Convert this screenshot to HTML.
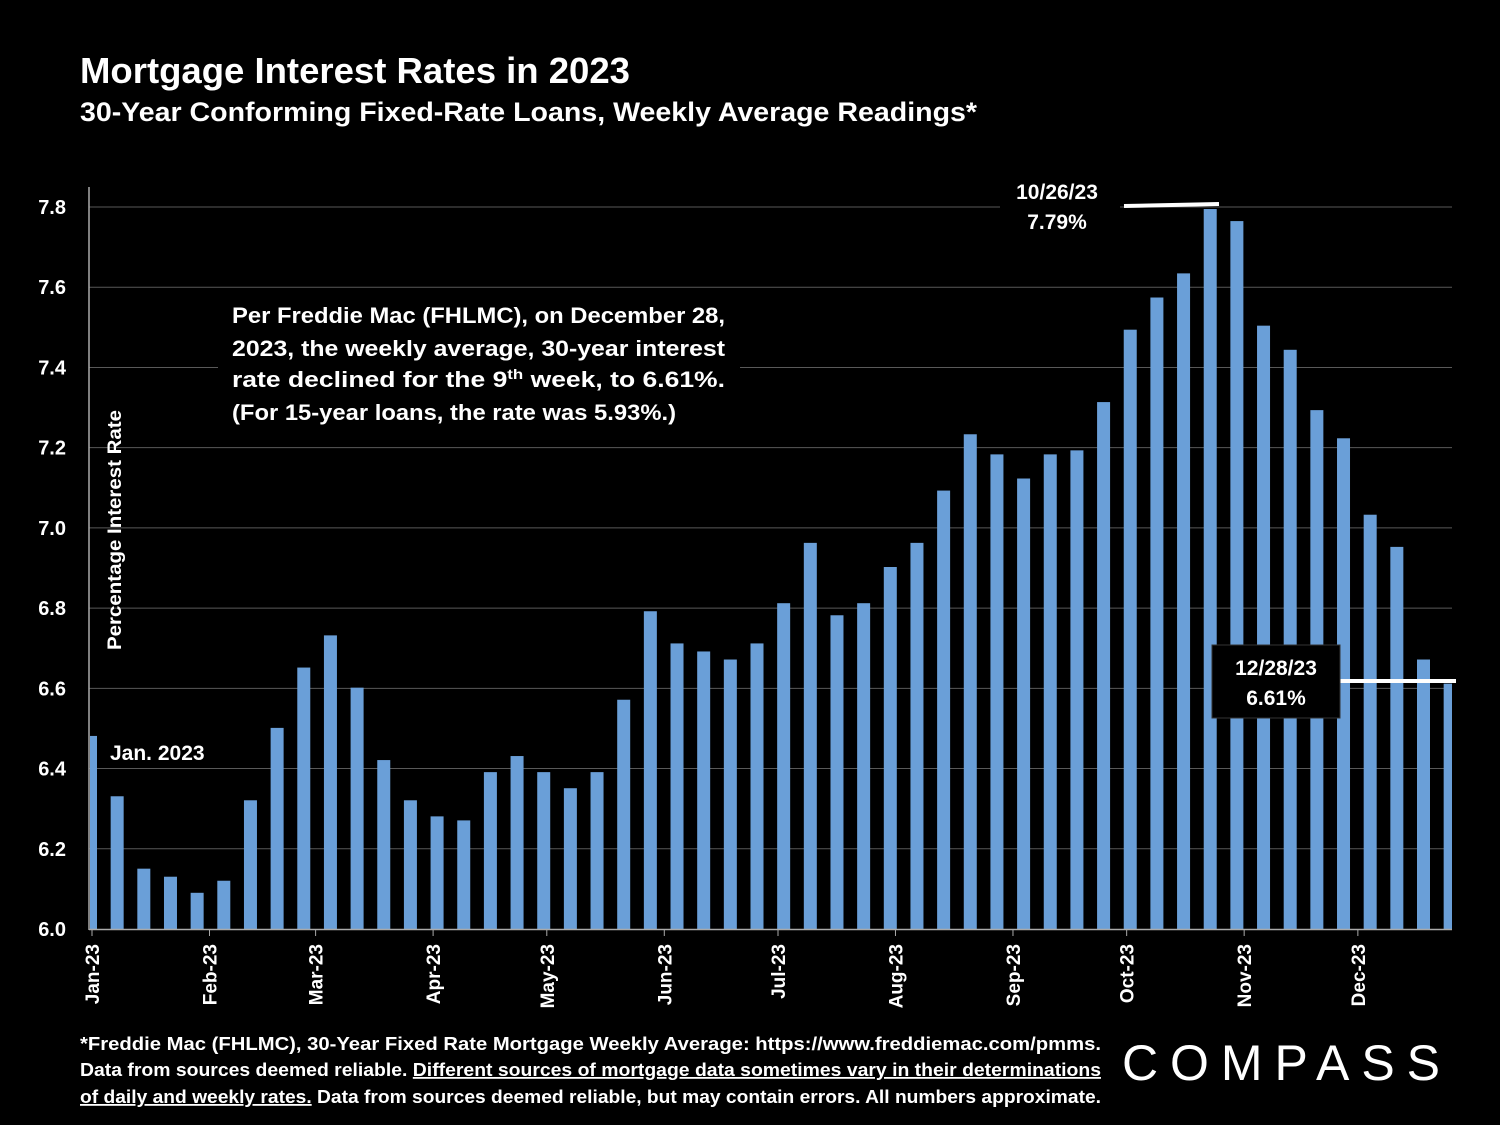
<!DOCTYPE html>
<html><head><meta charset="utf-8"><style>
html,body{margin:0;padding:0;background:#000;}
svg{display:block;font-family:"Liberation Sans",Arial,sans-serif;}
</style></head><body>
<svg id="chart" width="1500" height="1125" viewBox="0 0 1500 1125" xmlns="http://www.w3.org/2000/svg">
<rect width="1500" height="1125" fill="#000"/>
<text x="80" y="83" fill="#fff" font-size="36" font-weight="bold" textLength="550" lengthAdjust="spacingAndGlyphs">Mortgage Interest Rates in 2023</text>
<text x="80" y="121" fill="#fff" font-size="27" font-weight="bold" textLength="897" lengthAdjust="spacingAndGlyphs">30-Year Conforming Fixed-Rate Loans, Weekly Average Readings*</text>
<g id="grid"></g>
<g id="bars"></g>
<g id="axes"></g>
<text transform="translate(121,530) rotate(-90)" text-anchor="middle" fill="#fff" font-size="19" font-weight="bold" textLength="240" lengthAdjust="spacingAndGlyphs">Percentage Interest Rate</text>
<g>
<rect x="218" y="293" width="522" height="138" fill="#000"/>
<text x="232" y="323" fill="#fff" font-size="22" font-weight="bold" textLength="493" lengthAdjust="spacingAndGlyphs">Per Freddie Mac (FHLMC), on December 28,</text>
<text x="232" y="356" fill="#fff" font-size="22" font-weight="bold" textLength="493" lengthAdjust="spacingAndGlyphs">2023, the weekly average, 30-year interest</text>
<text x="232" y="387" fill="#fff" font-size="22" font-weight="bold" textLength="493" lengthAdjust="spacingAndGlyphs">rate declined for the 9<tspan font-size="14" dy="-8">th</tspan><tspan dy="8"> week, to 6.61%.</tspan></text>
<text x="232" y="420" fill="#fff" font-size="22" font-weight="bold" textLength="444" lengthAdjust="spacingAndGlyphs">(For 15-year loans, the rate was 5.93%.)</text>
</g>
<text x="110" y="760" fill="#fff" font-size="21" font-weight="bold">Jan. 2023</text>
<g>
<rect x="1000" y="175" width="120" height="62" fill="#000"/>
<text x="1057" y="199" text-anchor="middle" fill="#fff" font-size="21" font-weight="bold">10/26/23</text>
<text x="1057" y="229" text-anchor="middle" fill="#fff" font-size="21" font-weight="bold">7.79%</text>
<line x1="1124" y1="206" x2="1219" y2="204" stroke="#fff" stroke-width="4"/>
</g>
<g>
<line x1="1338" y1="681" x2="1456" y2="681" stroke="#fff" stroke-width="4"/>
<rect x="1212" y="645" width="128" height="73" fill="#000" stroke="#333" stroke-width="1"/>
<text x="1276" y="675" text-anchor="middle" fill="#fff" font-size="21" font-weight="bold">12/28/23</text>
<text x="1276" y="705" text-anchor="middle" fill="#fff" font-size="21" font-weight="bold">6.61%</text>
</g>
<g fill="#fff" font-size="18" font-weight="bold">
<text x="80" y="1050" textLength="1021" lengthAdjust="spacingAndGlyphs">*Freddie Mac (FHLMC), 30-Year Fixed Rate Mortgage Weekly Average:  https://www.freddiemac.com/pmms.</text>
<text x="80" y="1076" textLength="1021" lengthAdjust="spacingAndGlyphs">Data from sources deemed reliable. <tspan text-decoration="underline">Different sources of mortgage data sometimes vary in their determinations</tspan></text>
<text x="80" y="1103" textLength="1021" lengthAdjust="spacingAndGlyphs"><tspan text-decoration="underline">of daily and weekly rates.</tspan> Data from sources deemed reliable, but may contain errors. All numbers approximate.</text>
</g>
<text x="1122" y="1080" fill="#fff" font-size="50" textLength="318" lengthAdjust="spacing">COMPASS</text>
<script>
const weeks = ["1/5","1/12","1/19","1/26","2/2","2/9","2/16","2/23","3/2","3/9","3/16","3/23","3/30","4/6","4/13","4/20","4/27","5/4","5/11","5/18","5/25","6/1","6/8","6/15","6/22","6/29","7/6","7/13","7/20","7/27","8/3","8/10","8/17","8/24","8/31","9/7","9/14","9/21","9/28","10/5","10/12","10/19","10/26","11/2","11/9","11/16","11/22","11/30","12/7","12/14","12/21","12/28"];
const rates = [6.48,6.33,6.15,6.13,6.09,6.12,6.32,6.50,6.65,6.73,6.60,6.42,6.32,6.28,6.27,6.39,6.43,6.39,6.35,6.39,6.57,6.79,6.71,6.69,6.67,6.71,6.81,6.96,6.78,6.81,6.90,6.96,7.09,7.23,7.18,7.12,7.18,7.19,7.31,7.49,7.57,7.63,7.79,7.76,7.50,7.44,7.29,7.22,7.03,6.95,6.67,6.61];
const yTicks = [6.0,6.2,6.4,6.6,6.8,7.0,7.2,7.4,7.6,7.8];
const monthLabels = ["Jan-23","Feb-23","Mar-23","Apr-23","May-23","Jun-23","Jul-23","Aug-23","Sep-23","Oct-23","Nov-23","Dec-23"];
const monthDays = [0,31,59,90,120,151,181,212,243,273,304,334];

const NS="http://www.w3.org/2000/svg";
const y=v=>929-(v-6.0)/1.8*724;
const x=i=>90.5+i*26.66;
const dx=d=>92+d*3.79;
function mk(t,a,p){const e=document.createElementNS(NS,t);for(const k in a)e.setAttribute(k,a[k]);p.appendChild(e);return e;}
const grid=document.getElementById('grid'),bars=document.getElementById('bars'),axes=document.getElementById('axes');
yTicks.forEach(v=>{
 if(v>6.0){const g=mk('line',{x1:89,x2:1452,y1:929-(v-6.0)/1.8*722,y2:929-(v-6.0)/1.8*722,stroke:'#595959','stroke-width':1},grid);
 
 }
 const t=mk('text',{x:66,y:929-(v-6.0)/1.8*722+7,'text-anchor':'end',fill:'#fff','font-size':20,'font-weight':'bold'},axes);
 t.textContent=v.toFixed(1);
 
 
});
rates.forEach((r,i)=>{
 const l=Math.max(90,x(i)-6.5),rr=Math.min(1452,x(i)+6.5);
 const b=mk('rect',{x:l,y:y(r),width:rr-l,height:929-y(r),fill:'#6a9fd8'},bars);
 
 
});
const ax=mk('line',{x1:89,x2:89,y1:187,y2:930,stroke:'#aaa','stroke-width':1.5},axes);


const xb=mk('line',{x1:89,x2:1452,y1:929.5,y2:929.5,stroke:'#aaa','stroke-width':1.5},axes);


monthLabels.forEach((m,i)=>{
 const px=dx(monthDays[i]);
 const tk=mk('line',{x1:px,x2:px,y1:929,y2:936,stroke:'#aaa'},axes);
 
 
 const t=mk('text',{transform:`translate(${px+7},${944}) rotate(-90)`,'text-anchor':'end',fill:'#fff','font-size':19,'font-weight':'bold'},axes);
 t.textContent=m;
 
 
});
</script>
</svg>
</body></html>
